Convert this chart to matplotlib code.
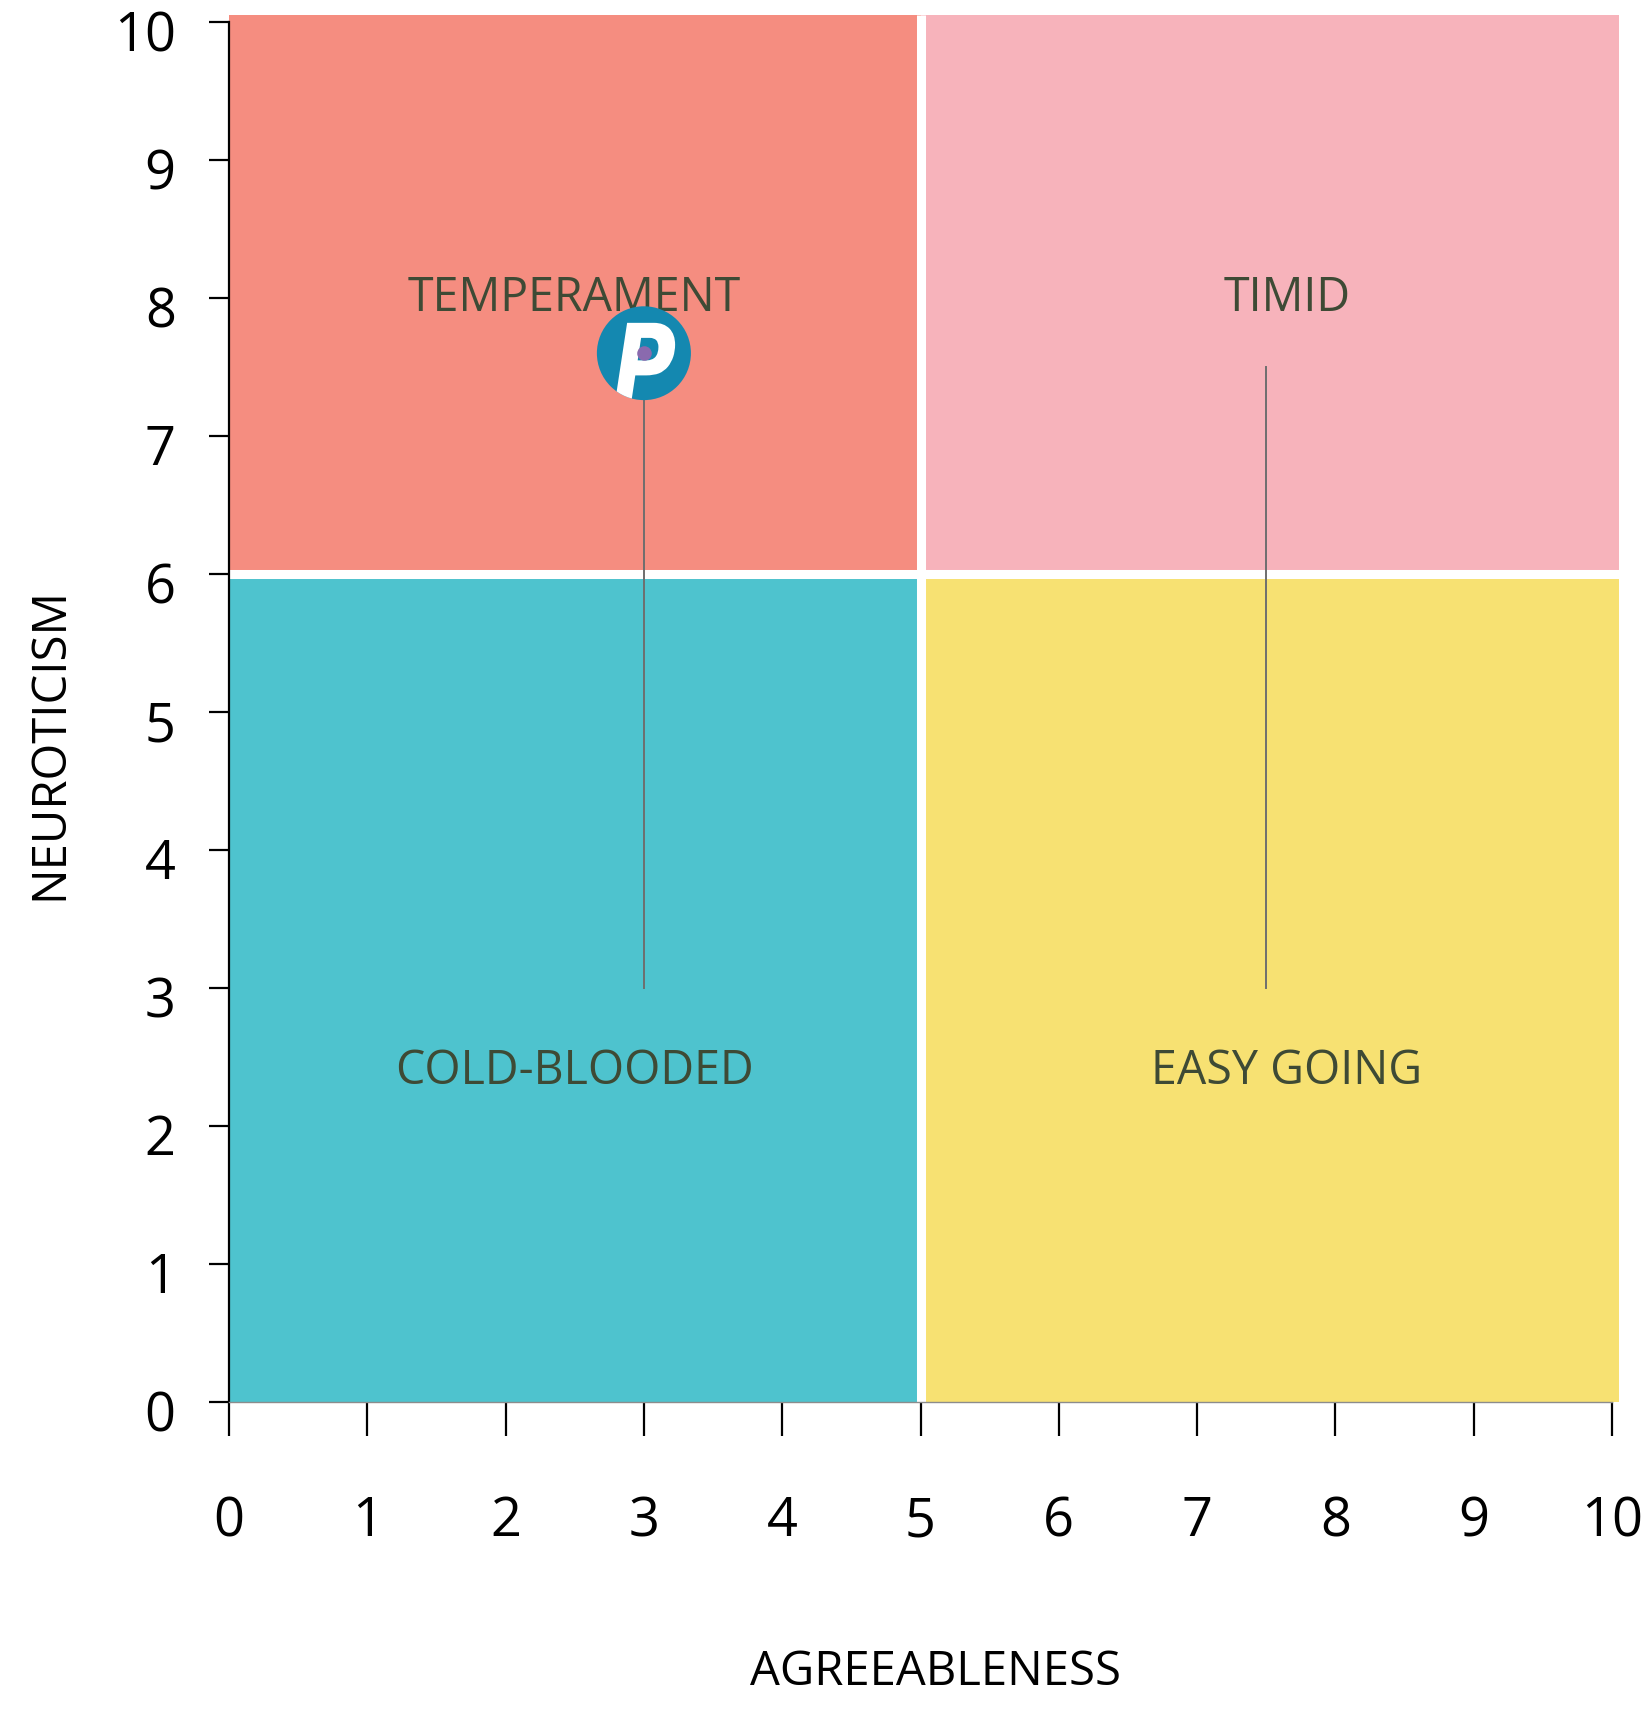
import matplotlib
matplotlib.use("Agg")
import matplotlib.pyplot as plt
from matplotlib.patches import Rectangle, Circle, PathPatch
from matplotlib.textpath import TextPath
from matplotlib.font_manager import FontProperties
from matplotlib.transforms import ScaledTranslation, Affine2D

# ---- data ----
x_split = 5
y_split = 6
axis_max = 10
quad_labels = ["TEMPERAMENT", "TIMID", "COLD-BLOODED", "EASY GOING"]
quad_colors = ["#F58D80", "#F7B3BB", "#4EC3CE", "#F7E172"]
person_x = [3.0, 7.5]
person_y = [7.6, 7.5]
line_base = 3.0
ticks = list(range(0, 11))

FONT = ["Open Sans", "DejaVu Sans"]
plt.rcParams["font.family"] = FONT

W, H, DPI = 1643, 1718, 100
fig = plt.figure(figsize=(W / DPI, H / DPI), dpi=DPI)
ax = fig.add_axes([229 / W, 316 / H, 1383 / W, 1380 / H])
ax.set_xlim(0, axis_max)
ax.set_ylim(0, axis_max)

ext = 0.05
rects = [
    (0, y_split, x_split, axis_max + ext - y_split),
    (x_split, y_split, axis_max + ext - x_split, axis_max + ext - y_split),
    (0, 0, x_split, y_split),
    (x_split, 0, axis_max + ext - x_split, y_split),
]
for (x0, y0, w, h), c in zip(rects, quad_colors):
    ax.add_patch(Rectangle((x0, y0), w, h, facecolor=c, edgecolor="none",
                           clip_on=False, zorder=1))
ax.plot([x_split, x_split], [0, axis_max + ext], color="white", lw=6.5,
        solid_capstyle="butt", clip_on=False, zorder=2)
ax.plot([0, axis_max + ext], [y_split, y_split], color="white", lw=6.5,
        solid_capstyle="butt", clip_on=False, zorder=2)

lab_x = [2.5, 7.65, 2.5, 7.65]
lab_y = [8.0, 8.0, 2.40, 2.40]
for t, lx, ly in zip(quad_labels, lab_x, lab_y):
    ax.text(lx, ly, t, ha="center", va="center", fontsize=33.5,
            color="#3E4A35", zorder=3)

for px, py in zip(person_x, person_y):
    ax.plot([px, px], [line_base, py], color="#6E6E6E", lw=1.4, zorder=4)

# marker
cx, cy = person_x[0], person_y[0]
circ = Circle((cx, cy), 0.34, facecolor="#1488B0", edgecolor="none", zorder=5)
ax.add_patch(circ)
tp = TextPath((0, 0), "P", size=1,
              prop=FontProperties(family="DejaVu Sans", weight="bold",
                                  style="italic"))
ext_ = tp.get_extents()
sc = 0.80
sx = 0.78 * sc
tr = (Affine2D().translate(-ext_.x0, -ext_.y1).scale(sx, sc)
      .translate(cx - 0.21, cy + 0.22))
pp = PathPatch(tr.transform_path(tp), facecolor="white", edgecolor="none",
               zorder=6)
ax.add_patch(pp)
pp.set_clip_path(circ)
ax.scatter([cx], [cy], s=110, color="#8A6AAE", zorder=7, linewidths=0)

for s in ["top", "right"]:
    ax.spines[s].set_visible(False)
ax.spines["left"].set_color("black")
ax.spines["left"].set_linewidth(1.6)
ax.spines["left"].set_zorder(8)
ax.spines["bottom"].set_color("#8C8C8C")
ax.spines["bottom"].set_linewidth(1.0)
ax.spines["bottom"].set_zorder(8)

ax.set_xticks(ticks)
ax.set_yticks(ticks)
ax.set_xticklabels([str(t) for t in ticks])
ax.set_yticklabels([str(t) for t in ticks])
ax.tick_params(axis="x", length=24.5, width=1.6, color="black", pad=42,
               labelsize=39, direction="out")
ax.tick_params(axis="y", length=14.4, width=1.6, color="black", pad=24,
               labelsize=39, direction="out")
off = ScaledTranslation(0, -8 / DPI, fig.dpi_scale_trans)
for lbl in ax.get_yticklabels():
    lbl.set_transform(lbl.get_transform() + off)

fig.text(936 / W, 1 - 1672 / H, "AGREEABLENESS", ha="center", va="center",
         fontsize=34, color="black")
fig.text(50 / W, 1 - 744 / H, "NEUROTICISM", ha="center", va="center",
         fontsize=34, color="black", rotation=90)

fig.savefig("out.png", dpi=DPI, facecolor="white")
